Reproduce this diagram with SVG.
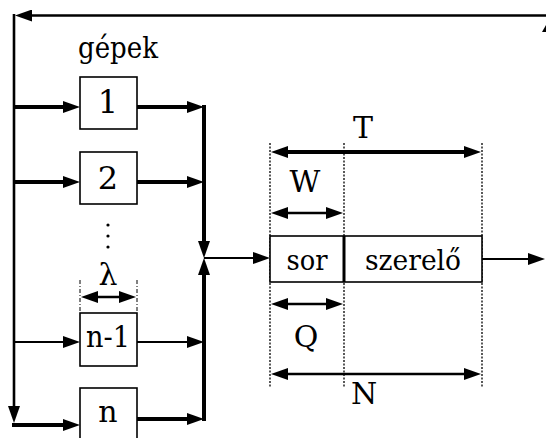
<svg xmlns="http://www.w3.org/2000/svg" width="546" height="438" viewBox="0 0 546 438">
<style>
  .box{fill:#fff;stroke:#000;stroke-width:1.6}
  text{font-family:"DejaVu Serif","Liberation Serif",serif;font-size:30px;fill:#000;text-anchor:middle}
  .big{font-size:32px}
  .thick{stroke:#000;stroke-width:4;fill:none}
  .med{stroke:#000;stroke-width:2.6;fill:none}
  .thin{stroke:#000;stroke-width:2;fill:none}
  .dot{stroke:#000;stroke-width:1.3;stroke-dasharray:2 1.5;fill:none}
  .dash{stroke:#000;stroke-width:1;stroke-dasharray:4 2 1 2;fill:none}
</style>
<defs>
  <marker id="ah" markerUnits="userSpaceOnUse" markerWidth="17" markerHeight="12" refX="9" refY="6" orient="auto-start-reverse" viewBox="0 0 17 12">
    <path d="M0,0 L17,6 L0,12 z" fill="#000"/>
  </marker>
</defs>
<rect width="546" height="438" fill="#fff"/>
<g id="connectors">
  <line class="med" x1="546" y1="15.5" x2="23" y2="15.5" marker-end="url(#ah)"/>
  <line class="med" x1="14" y1="14" x2="14" y2="415" marker-end="url(#ah)"/>
  <polygon points="542,32 546,25 546,32" fill="#000"/>
  <line class="thick" x1="13" y1="107" x2="72" y2="107" marker-end="url(#ah)"/>
  <line class="thick" x1="13" y1="182" x2="72" y2="182" marker-end="url(#ah)"/>
  <line class="thin" x1="13" y1="342" x2="72" y2="342" marker-end="url(#ah)"/>
  <line class="thick" x1="12" y1="425" x2="72" y2="425" marker-end="url(#ah)"/>
  <line class="thick" x1="137" y1="107" x2="196" y2="107" marker-end="url(#ah)"/>
  <line class="thick" x1="137" y1="182" x2="196" y2="182" marker-end="url(#ah)"/>
  <line class="thin" x1="137" y1="342" x2="196" y2="342" marker-end="url(#ah)"/>
  <line class="thick" x1="137" y1="419" x2="196" y2="419" marker-end="url(#ah)"/>
  <line class="thick" x1="204" y1="105" x2="204" y2="250" marker-end="url(#ah)"/>
  <line class="thick" x1="204" y1="421" x2="204" y2="266" marker-end="url(#ah)"/>
  <line class="thin" x1="204" y1="258" x2="262" y2="258" marker-end="url(#ah)"/>
  <line class="thin" x1="482" y1="259" x2="537" y2="259" marker-end="url(#ah)"/>
</g>
<g id="dims">
  <line class="dot" x1="270" y1="143" x2="270" y2="388"/>
  <line class="dot" x1="344" y1="143" x2="344" y2="388"/>
  <line class="dot" x1="482" y1="143" x2="482" y2="388"/>
  <line class="thick" x1="279" y1="152" x2="473" y2="152" marker-start="url(#ah)" marker-end="url(#ah)"/>
  <line class="med" x1="279" y1="213" x2="335" y2="213" marker-start="url(#ah)" marker-end="url(#ah)"/>
  <line class="med" x1="279" y1="304" x2="335" y2="304" marker-start="url(#ah)" marker-end="url(#ah)"/>
  <line class="med" x1="279" y1="374" x2="473" y2="374" marker-start="url(#ah)" marker-end="url(#ah)"/>
  <line class="dash" x1="80" y1="280" x2="80" y2="313"/>
  <line class="dash" x1="137" y1="280" x2="137" y2="313"/>
  <line class="med" x1="89" y1="297" x2="128" y2="297" marker-start="url(#ah)" marker-end="url(#ah)"/>
  <text x="363" y="138">T</text>
  <text x="305" y="192">W</text>
  <text x="306" y="347">Q</text>
  <text x="364" y="404">N</text>
  <text x="108" y="285">λ</text>
  <circle cx="108" cy="225" r="1.6"/>
  <circle cx="108" cy="236" r="1.6"/>
  <circle cx="108" cy="247" r="1.6"/>
  <text x="78" y="58" style="text-anchor:start;font-size:29px" textLength="80" lengthAdjust="spacingAndGlyphs">gépek</text>
</g>
<g id="node1"><rect class="box" x="80" y="77" width="57" height="52"/><text class="big" x="108" y="113">1</text></g>
<g id="node2"><rect class="box" x="80" y="152" width="57" height="52"/><text class="big" x="108" y="189">2</text></g>
<g id="node-n-1"><rect class="box" x="80" y="313" width="57" height="53"/><text x="108" y="347" style="font-size:29px" textLength="44" lengthAdjust="spacingAndGlyphs">n-1</text></g>
<g id="node-n"><rect class="box" x="80" y="388" width="57" height="60"/><text x="108" y="422">n</text></g>
<g id="queue">
  <rect class="box" x="270" y="236" width="212" height="46"/>
  <line stroke="#000" stroke-width="3" x1="344" y1="236" x2="344" y2="282"/>
  <text x="307" y="270" style="font-size:28px" textLength="41" lengthAdjust="spacingAndGlyphs">sor</text>
  <text x="413" y="270" style="font-size:28px" textLength="96" lengthAdjust="spacingAndGlyphs">szerelő</text>
</g>
</svg>
